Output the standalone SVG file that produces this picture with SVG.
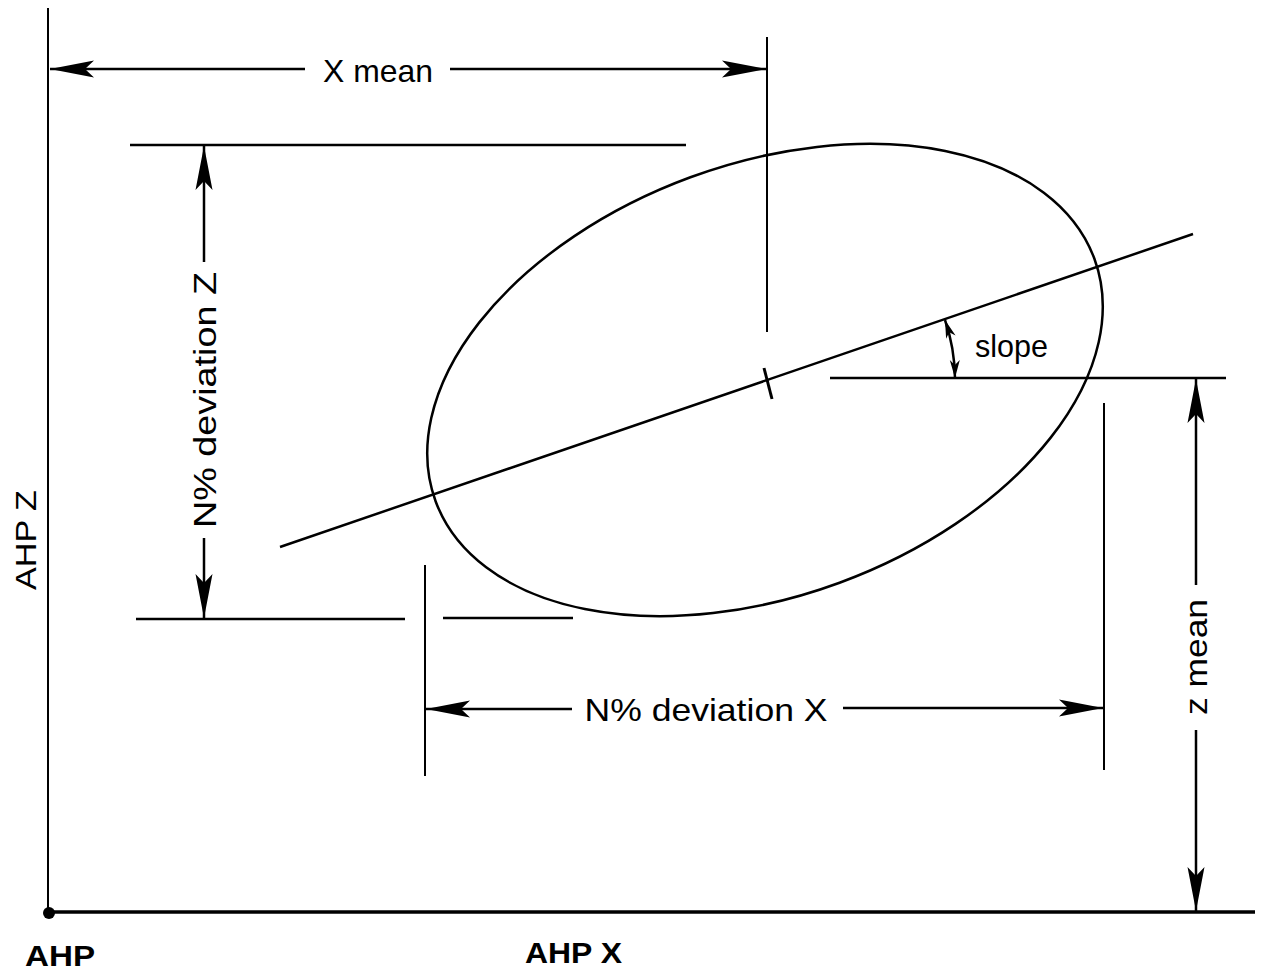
<svg xmlns="http://www.w3.org/2000/svg" width="1265" height="972" viewBox="0 0 1265 972">
<style>
.ln{stroke:#000;stroke-width:2.5;fill:none;stroke-linecap:butt}
.tx{font-family:"Liberation Sans",Arial,sans-serif;font-size:32px;fill:#000}
.ax{font-family:"Liberation Sans",Arial,sans-serif;font-size:29px;font-weight:bold;fill:#000}
</style>
<defs>
<marker id="ah" markerUnits="userSpaceOnUse" markerWidth="50" markerHeight="20" refX="0" refY="0" orient="auto-start-reverse" overflow="visible">
<path d="M0,0 L-44,-8.5 L-35,0 L-44,8.5 Z" fill="#000"/>
</marker>
<marker id="sh" markerUnits="userSpaceOnUse" markerWidth="24" markerHeight="14" refX="0" refY="0" orient="auto-start-reverse" overflow="visible">
<path d="M0,0 L-18,-5 L-13,0 L-18,5 Z" fill="#000"/>
</marker>
</defs>

<g id="axes">
<line class="ln" x1="48" y1="8" x2="48" y2="912" style="stroke-width:2"/>
<line class="ln" x1="48" y1="912" x2="1255" y2="912" style="stroke-width:3.5"/>
<circle cx="49" cy="913" r="6" fill="#000"/>
<text class="ax" x="25" y="966" textLength="70" lengthAdjust="spacingAndGlyphs">AHP</text>
<text class="ax" x="525" y="963" textLength="97" lengthAdjust="spacingAndGlyphs">AHP X</text>
<text class="ax" transform="translate(36,540) rotate(-90)" text-anchor="middle" textLength="100" lengthAdjust="spacingAndGlyphs" style="font-weight:normal">AHP Z</text>
</g>

<g id="ellipse">
<ellipse class="ln" cx="765" cy="380" rx="351" ry="216" transform="rotate(-20.2 765 380)"/>
<line class="ln" x1="280" y1="547" x2="1193" y2="234"/>
<line class="ln" x1="764" y1="368" x2="772" y2="399" style="stroke-width:3"/>
</g>

<g id="connectors">
<!-- X mean -->
<line class="ln" x1="767" y1="37" x2="767" y2="332" style="stroke-width:2"/>
<line class="ln" x1="305" y1="69" x2="50" y2="69" marker-end="url(#ah)"/>
<line class="ln" x1="450" y1="69" x2="766" y2="69" marker-end="url(#ah)"/>
<!-- N% deviation Z -->
<line class="ln" x1="130" y1="145" x2="686" y2="145"/>
<line class="ln" x1="136" y1="619" x2="405" y2="619"/>
<line class="ln" x1="443" y1="618" x2="573" y2="618"/>
<line class="ln" x1="204" y1="262" x2="204" y2="146" marker-end="url(#ah)"/>
<line class="ln" x1="204" y1="538" x2="204" y2="618" marker-end="url(#ah)"/>
<!-- N% deviation X -->
<line class="ln" x1="425" y1="565" x2="425" y2="776" style="stroke-width:2"/>
<line class="ln" x1="1104" y1="403" x2="1104" y2="770" style="stroke-width:2"/>
<line class="ln" x1="572" y1="709" x2="426" y2="709" marker-end="url(#ah)"/>
<line class="ln" x1="843" y1="708" x2="1103" y2="708" marker-end="url(#ah)"/>
<!-- Z mean -->
<line class="ln" x1="830" y1="378" x2="1226" y2="378"/>
<line class="ln" x1="1196" y1="585" x2="1196" y2="379" marker-end="url(#ah)"/>
<line class="ln" x1="1196" y1="730" x2="1196" y2="911" marker-end="url(#ah)"/>
<!-- slope arc -->
<path class="ln" d="M 945 320 A 185 185 0 0 1 955 378" marker-start="url(#sh)" marker-end="url(#sh)"/>
</g>

<g id="labels">
<text class="tx" x="378" y="82" text-anchor="middle" textLength="110" lengthAdjust="spacingAndGlyphs">X mean</text>
<text class="tx" x="706" y="721" text-anchor="middle" textLength="243" lengthAdjust="spacingAndGlyphs">N% deviation X</text>
<text class="tx" x="975" y="357" textLength="73" lengthAdjust="spacingAndGlyphs">slope</text>
<text class="tx" transform="translate(216,400) rotate(-90)" text-anchor="middle" textLength="256" lengthAdjust="spacingAndGlyphs">N% deviation Z</text>
<text class="tx" transform="translate(1207,657) rotate(-90)" text-anchor="middle" textLength="116" lengthAdjust="spacingAndGlyphs">z mean</text>
</g>
</svg>
